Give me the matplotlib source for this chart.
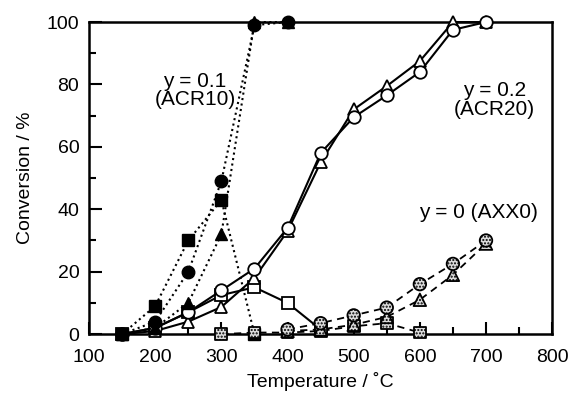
import matplotlib
matplotlib.use('Agg')
import matplotlib.pyplot as plt
from matplotlib.ticker import MultipleLocator

plt.rcParams['font.family'] = ['Liberation Sans', 'DejaVu Sans']

# y = 0.1 (ACR10), filled markers, dotted lines
t10_circ = [150, 200, 250, 300, 350, 400]
c10_circ = [0, 4, 20, 49, 99, 100]
t10_tri = [150, 200, 250, 300, 350, 400]
c10_tri = [0, 2, 10, 32, 100, 100]
t10_sq = [150, 200, 250, 300, 350]
c10_sq = [0, 9, 30, 43, 0]

# y = 0.2 (ACR20), open markers, solid lines
t20_circ = [150, 200, 250, 300, 350, 400, 450, 500, 550, 600, 650, 700]
c20_circ = [0, 2, 7, 14, 21, 34, 58, 69.5, 76.5, 84, 97.5, 100]
t20_tri = [150, 200, 250, 300, 350, 400, 450, 500, 550, 600, 650, 700]
c20_tri = [0, 1, 4, 8.7, 18, 33, 55, 72, 79.5, 87.5, 100, 100]
t20_sq = [150, 200, 250, 300, 350, 400, 450]
c20_sq = [0, 2, 7, 12.5, 15, 10, 1.5]

# y = 0 (AXX0), stippled markers, dashed lines
t0_circ = [400, 450, 500, 550, 600, 650, 700]
c0_circ = [1.5, 3.5, 6, 8.5, 16, 22.5, 30]
t0_tri = [400, 450, 500, 550, 600, 650, 700]
c0_tri = [1, 1.5, 3, 5.5, 11, 19, 29]
t0_sq = [300, 350, 400, 450, 500, 550, 600]
c0_sq = [0, 0.5, 0.5, 1, 2.5, 3.5, 0.5]

fig = plt.figure(figsize=(5.71, 3.94), dpi=100)
ax = fig.add_axes([0.156, 0.152, 0.811, 0.792])

ms = 9
mew = 1.3

# ACR20 - solid, open
for t, c, m in [(t20_sq, c20_sq, 's'), (t20_tri, c20_tri, '^'), (t20_circ, c20_circ, 'o')]:
    ax.plot(t, c, color='black', lw=1.5, marker=m, ms=ms if m != 's' else ms - 0.5,
            mfc='white', mec='black', mew=mew, clip_on=False, zorder=3)

# ACR10 - dotted, filled
for t, c, m in [(t10_sq, c10_sq, 's'), (t10_tri, c10_tri, '^'), (t10_circ, c10_circ, 'o')]:
    ax.plot(t, c, color='black', lw=1.5, ls=':', marker=m, ms=ms if m != 's' else ms - 0.5,
            mfc='black', mec='black', clip_on=False, zorder=5)

# AXX0 - dashed, stippled
for t, c, m in [(t0_sq, c0_sq, 's'), (t0_tri, c0_tri, '^'), (t0_circ, c0_circ, 'o')]:
    ax.plot(t, c, color='black', lw=1.3, ls=(0, (4, 3)), zorder=2, clip_on=False)
    ax.scatter(t, c, s=(ms if m != 's' else ms - 0.5) ** 2, marker=m, facecolor='#dcdcdc',
               edgecolor='black', linewidths=mew, hatch='.....', zorder=6, clip_on=False)

ax.set_xlim(100, 800)
ax.set_ylim(0, 100)
ax.xaxis.set_major_locator(MultipleLocator(100))
ax.xaxis.set_minor_locator(MultipleLocator(50))
ax.yaxis.set_major_locator(MultipleLocator(20))
ax.yaxis.set_minor_locator(MultipleLocator(10))
ax.tick_params(which='major', direction='in', length=9, width=1.5, labelsize=14)
ax.tick_params(axis='x', which='major', pad=11)
ax.tick_params(axis='y', which='major', pad=7)
ax.tick_params(which='minor', direction='in', length=5, width=1.5)
for s in ax.spines.values():
    s.set_linewidth(1.8)

ax.set_xlabel('Temperature / ˚C', fontsize=14, labelpad=4)
ax.set_ylabel('Conversion / %', fontsize=14, labelpad=9)

ax.text(260, 78, 'y = 0.1\n(ACR10)', fontsize=15, ha='center', va='center', linespacing=0.95)
ax.text(713, 75, 'y = 0.2\n(ACR20)', fontsize=15, ha='center', va='center', linespacing=0.95)
ax.text(688, 39, 'y = 0 (AXX0)', fontsize=15, ha='center', va='center')

fig.savefig('out.png', dpi=100)
